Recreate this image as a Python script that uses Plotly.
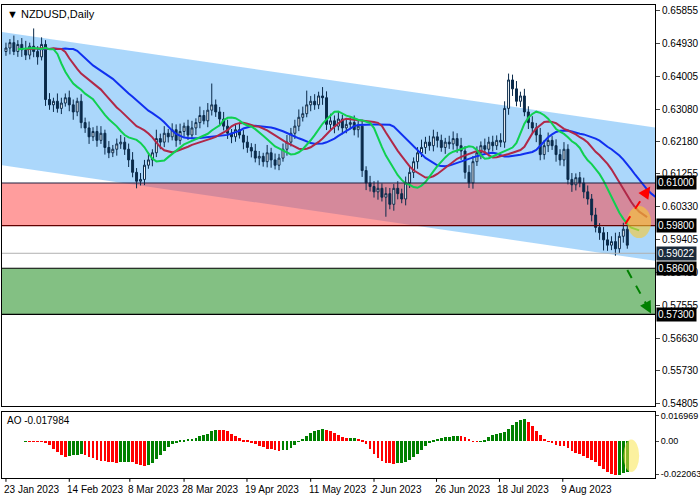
import plotly.graph_objects as go
import pandas as pd
import numpy as np

closes = [0.6480,0.6495,0.6470,0.6490,0.6475,0.6460,0.6485,0.6470,0.6455,0.6490,
0.6335,
0.6320,0.6330,0.6310,0.6325,0.6340,0.6320,0.6300,0.6330,
0.6270,0.6255,0.6230,0.6245,0.6220,0.6240,
0.6200,0.6185,0.6195,0.6210,0.6215,0.6195,0.6165,
0.6130,0.6105,0.6110,
0.6150,0.6165,0.6185,
0.6225,0.6215,0.6240,0.6230,0.6250,0.6220,0.6245,0.6260,0.6235,
0.6255,0.6270,0.6290,0.6275,0.6305,0.6320,0.6300,0.6280,
0.6260,0.6240,0.6230,0.6250,0.6235,0.6215,0.6200,
0.6190,0.6170,0.6175,0.6160,0.6185,0.6165,0.6150,0.6170,
0.6195,0.6215,0.6240,0.6260,0.6285,0.6295,0.6320,
0.6330,0.6320,0.6345,0.6340,0.6265,
0.6275,0.6260,0.6280,0.6255,0.6265,0.6270,0.6250,0.6260,
0.6135,
0.6100,0.6090,0.6075,0.6085,0.6060,0.6070,0.6040,0.6085,0.6070,0.6055,
0.6100,0.6130,0.6160,0.6185,0.6200,0.6215,0.6205,
0.6230,0.6220,0.6200,0.6215,0.6210,0.6225,0.6205,0.6190,
0.6130,0.6100,0.6160,
0.6185,0.6205,0.6195,0.6215,0.6205,0.6220,0.6215,
0.6310,0.6390,0.6365,
0.6330,0.6345,0.6300,0.6270,0.6255,0.6235,
0.6180,0.6205,0.6220,0.6205,0.6180,0.6165,0.6195,
0.6110,0.6095,0.6115,0.6100,0.6075,0.6055,
0.6010,0.5975,0.5960,0.5940,0.5925,0.5935,
0.5915,0.5950,0.5970,0.5925,0.5902]
first_open = 0.6470
wick_up_pips = [15,10,20,12,18,25,10,50,15,20,
12,
18,10,22,15,12,20,15,10,
20,14,18,12,16,20,
10,18,12,15,20,14,16,
22,12,18,
15,20,10,
25,14,20,12,18,15,22,10,
18,20,12,25,15,20,60,15,
14,20,18,12,16,20,14,
18,12,20,15,10,22,14,18,
12,16,20,15,18,22,20,
40,15,20,12,25,
18,20,15,22,12,18,16,20,
15,
18,12,20,15,22,14,18,16,12,20,
14,18,20,12,16,22,15,
18,20,14,16,12,18,20,15,
22,14,20,
16,18,12,20,15,18,14,
20,20,18,
15,22,12,20,16,18,
14,20,16,22,12,18,15,
20,14,18,12,16,15,
18,14,20,12,16,22,
15,25,12,18,10]
wick_dn_pips = [12,18,10,15,20,14,12,16,22,10,
18,
14,20,12,16,10,18,22,12,
16,14,20,12,18,10,
20,15,12,18,14,16,20,
14,20,12,
16,10,18,
12,20,14,16,10,18,12,15,
14,12,20,16,10,18,15,14,
20,12,16,18,14,10,20,
15,18,12,20,14,16,22,12,
14,10,18,12,16,14,12,
10,18,14,12,20,
16,14,20,12,18,15,14,16,
22,
18,20,14,16,22,12,55,14,18,16,
12,18,14,16,20,12,18,
14,16,20,12,18,14,16,20,
25,18,14,
16,12,18,14,20,16,12,
14,16,18,
20,14,16,12,18,14,
20,16,14,18,12,20,16,
18,14,20,16,12,18,
16,18,14,20,30,16,
14,20,12,18,10]
tick_pos = [0,16,31.3,45,60.9,77,93,108.8,124.7,140.7]
tick_text = ["23 Jan 2023","14 Feb 2023","8 Mar 2023","28 Mar 2023","19 Apr 2023",
             "11 May 2023","2 Jun 2023","26 Jun 2023","18 Jul 2023","9 Aug 2023"]
price_ticks = [0.65855,0.64930,0.64005,0.63080,0.62180,0.61255,0.60330,0.59405,0.58480,0.57555,0.56630,0.55730,0.54805]
channel_upper = (0.6525, 0.6256)
channel_lower = (0.6150, 0.5881)
red_zone = (0.5980, 0.6100)
green_zone = (0.5730, 0.5860)
last_price = 0.59022

n = min(len(closes), len(wick_up_pips), len(wick_dn_pips))
closes = closes[:n]
x = np.arange(n)
opens = [first_open] + closes[:-1]
highs = [max(o, c) + w / 10000 for o, c, w in zip(opens, closes, wick_up_pips)]
lows = [min(o, c) - w / 10000 for o, c, w in zip(opens, closes, wick_dn_pips)]
med = pd.Series([(h + l) / 2 for h, l in zip(highs, lows)])

def smma(s, p):
    return s.ewm(alpha=1 / p, adjust=False).mean()
jaw, teeth, lips = smma(med, 13), smma(med, 8), smma(med, 5)
ao = (med.rolling(5, min_periods=1).mean() - med.rolling(34, min_periods=1).mean()).tolist()
ao_col = ["#008000" if i > 0 and ao[i] >= ao[i - 1] else "#ff0000" for i in range(n)]

X0, X1 = -1, 164
NAVY = "#0a2a4a"
FONT = "Liberation Sans"
fig = go.Figure()
fig.add_trace(go.Candlestick(x=x, open=opens, high=highs, low=lows, close=closes,
    increasing=dict(line=dict(color=NAVY, width=1), fillcolor="white"),
    decreasing=dict(line=dict(color=NAVY, width=1), fillcolor=NAVY),
    whiskerwidth=0, showlegend=False, xaxis="x", yaxis="y", hoverinfo="skip"))
for s, sh, col in [(jaw, 8, "#1030f0"), (teeth, 5, "#b02848"), (lips, 3, "#10d050")]:
    fig.add_trace(go.Scatter(x=x + sh, y=s, mode="lines", line=dict(color=col, width=2),
                             showlegend=False, xaxis="x", yaxis="y"))
fig.add_trace(go.Bar(x=x, y=ao, marker_color=ao_col, marker_line_width=0, width=0.7,
                     showlegend=False, xaxis="x2", yaxis="y2"))

shapes = []
shapes.append(dict(type="path", xref="x", yref="y", layer="below", line=dict(width=0),
    fillcolor="rgba(150,205,250,0.8)",
    path=f"M {X0},{channel_upper[0]} L {X1},{channel_upper[1]} L {X1},{channel_lower[1]} L {X0},{channel_lower[0]} Z"))
shapes.append(dict(type="rect", xref="x", yref="y", layer="below", x0=X0, x1=X1,
    y0=red_zone[0], y1=red_zone[1], fillcolor="rgba(255,60,60,0.5)", line=dict(width=0)))
shapes.append(dict(type="rect", xref="x", yref="y", layer="below", x0=X0, x1=X1,
    y0=green_zone[0], y1=green_zone[1], fillcolor="rgba(30,140,30,0.55)", line=dict(width=0)))
for yv, col in [(red_zone[0], "#600000"), (red_zone[1], "#202040"), (green_zone[0], "black"), (green_zone[1], "black")]:
    shapes.append(dict(type="line", xref="x", yref="y", x0=X0, x1=X1, y0=yv, y1=yv, line=dict(color=col, width=1.2)))
shapes.append(dict(type="line", xref="x", yref="y", x0=X0, x1=X1, y0=last_price, y1=last_price, line=dict(color="#b0b0b0", width=1)))
shapes.append(dict(type="circle", xref="x", yref="y", x0=157, x1=163, y0=0.5945, y1=0.6035,
    fillcolor="rgba(250,200,50,0.6)", line=dict(width=0)))
shapes.append(dict(type="circle", xref="x2", yref="y2", x0=156, x1=160, y0=-0.0205, y1=0.001,
    fillcolor="rgba(250,230,80,0.55)", line=dict(width=0)))
shapes.append(dict(type="line", xref="x", yref="y", x0=156.5, y0=0.5985, x1=161.5, y1=0.6070,
                   line=dict(color="red", width=2, dash="dash")))
shapes.append(dict(type="line", xref="x", yref="y", x0=157, y0=0.5855, x1=162, y1=0.5755,
                   line=dict(color="green", width=2, dash="dash")))
for p in tick_pos:
    shapes.append(dict(type="line", xref="x2", yref="paper", x0=p, x1=p, y0=0, y1=-0.008,
                       line=dict(color="black", width=1)))

ann = []
ann.append(dict(x=0.005, y=0.997, xref="paper", yref="paper", text="▼ NZDUSD,Daily", showarrow=False,
                xanchor="left", yanchor="top", font=dict(size=11, color="black", family=FONT)))
ann.append(dict(x=0.005, y=0.137, xref="paper", yref="paper", text="AO -0.017984", showarrow=False,
                xanchor="left", yanchor="top", font=dict(size=10, color="black", family=FONT)))
ann.append(dict(x=162.8, y=0.6090, ax=161.3, ay=0.6066, xref="x", yref="y", axref="x", ayref="y",
                showarrow=True, arrowhead=2, arrowsize=1.2, arrowcolor="red", arrowwidth=2, text=""))
ann.append(dict(x=163, y=0.5733, ax=161.8, ay=0.5758, xref="x", yref="y", axref="x", ayref="y",
                showarrow=True, arrowhead=2, arrowsize=1.2, arrowcolor="green", arrowwidth=2, text=""))
for p, t in zip(tick_pos, tick_text):
    ann.append(dict(x=p, y=-0.008, xref="x2", yref="paper", text=t, showarrow=False, xanchor="left",
                    yanchor="top", xshift=-4, font=dict(size=10, color="black", family=FONT)))
for v in [red_zone[1], red_zone[0], green_zone[1], green_zone[0], last_price]:
    ann.append(dict(x=1.0, y=v, xref="paper", yref="y", text=f"{v:.5f}", showarrow=False, xanchor="left",
                    xshift=1, bgcolor="black" if v != last_price else "#1a2a3a",
                    font=dict(size=10, color="white", family=FONT), borderpad=1))

fig.update_layout(width=700, height=500, margin=dict(l=2, r=45, t=5, b=22, autoexpand=False),
    paper_bgcolor="white", plot_bgcolor="white", font=dict(family=FONT, size=10, color="black"),
    shapes=shapes, annotations=ann, bargap=0,
    xaxis=dict(domain=[0, 1], range=[X0, X1], anchor="y", showticklabels=False, showgrid=False,
               rangeslider=dict(visible=False), showline=True, mirror=True, linecolor="black",
               zeroline=False, automargin=False),
    yaxis=dict(domain=[0.152, 1], range=[0.5472, 0.6601], side="right", tickvals=price_ticks,
               tickformat=".5f", ticks="outside", ticklen=4, showgrid=False, showline=True, mirror=True,
               linecolor="black", zeroline=False, automargin=False),
    xaxis2=dict(domain=[0, 1], range=[X0, X1], anchor="y2", showticklabels=False, showgrid=False,
                showline=True, mirror=True, linecolor="black", automargin=False),
    yaxis2=dict(domain=[0, 0.14], range=[-0.0245, 0.0195], side="right", tickvals=[0.016969, 0, -0.022063],
                ticktext=["0.016969", "0.00", "-0.022063"], ticks="outside", ticklen=3, showgrid=False,
                showline=True, mirror=True, linecolor="black", zeroline=False, automargin=False,
                tickfont=dict(size=9)))
fig.write_html("out.html", config={"displayModeBar": False})
with open("out.html", encoding="utf-8") as f:
    html = f.read()
html = html.replace("<body>", '<body style="margin:0;overflow:hidden">', 1)
with open("out.html", "w", encoding="utf-8") as f:
    f.write(html)
